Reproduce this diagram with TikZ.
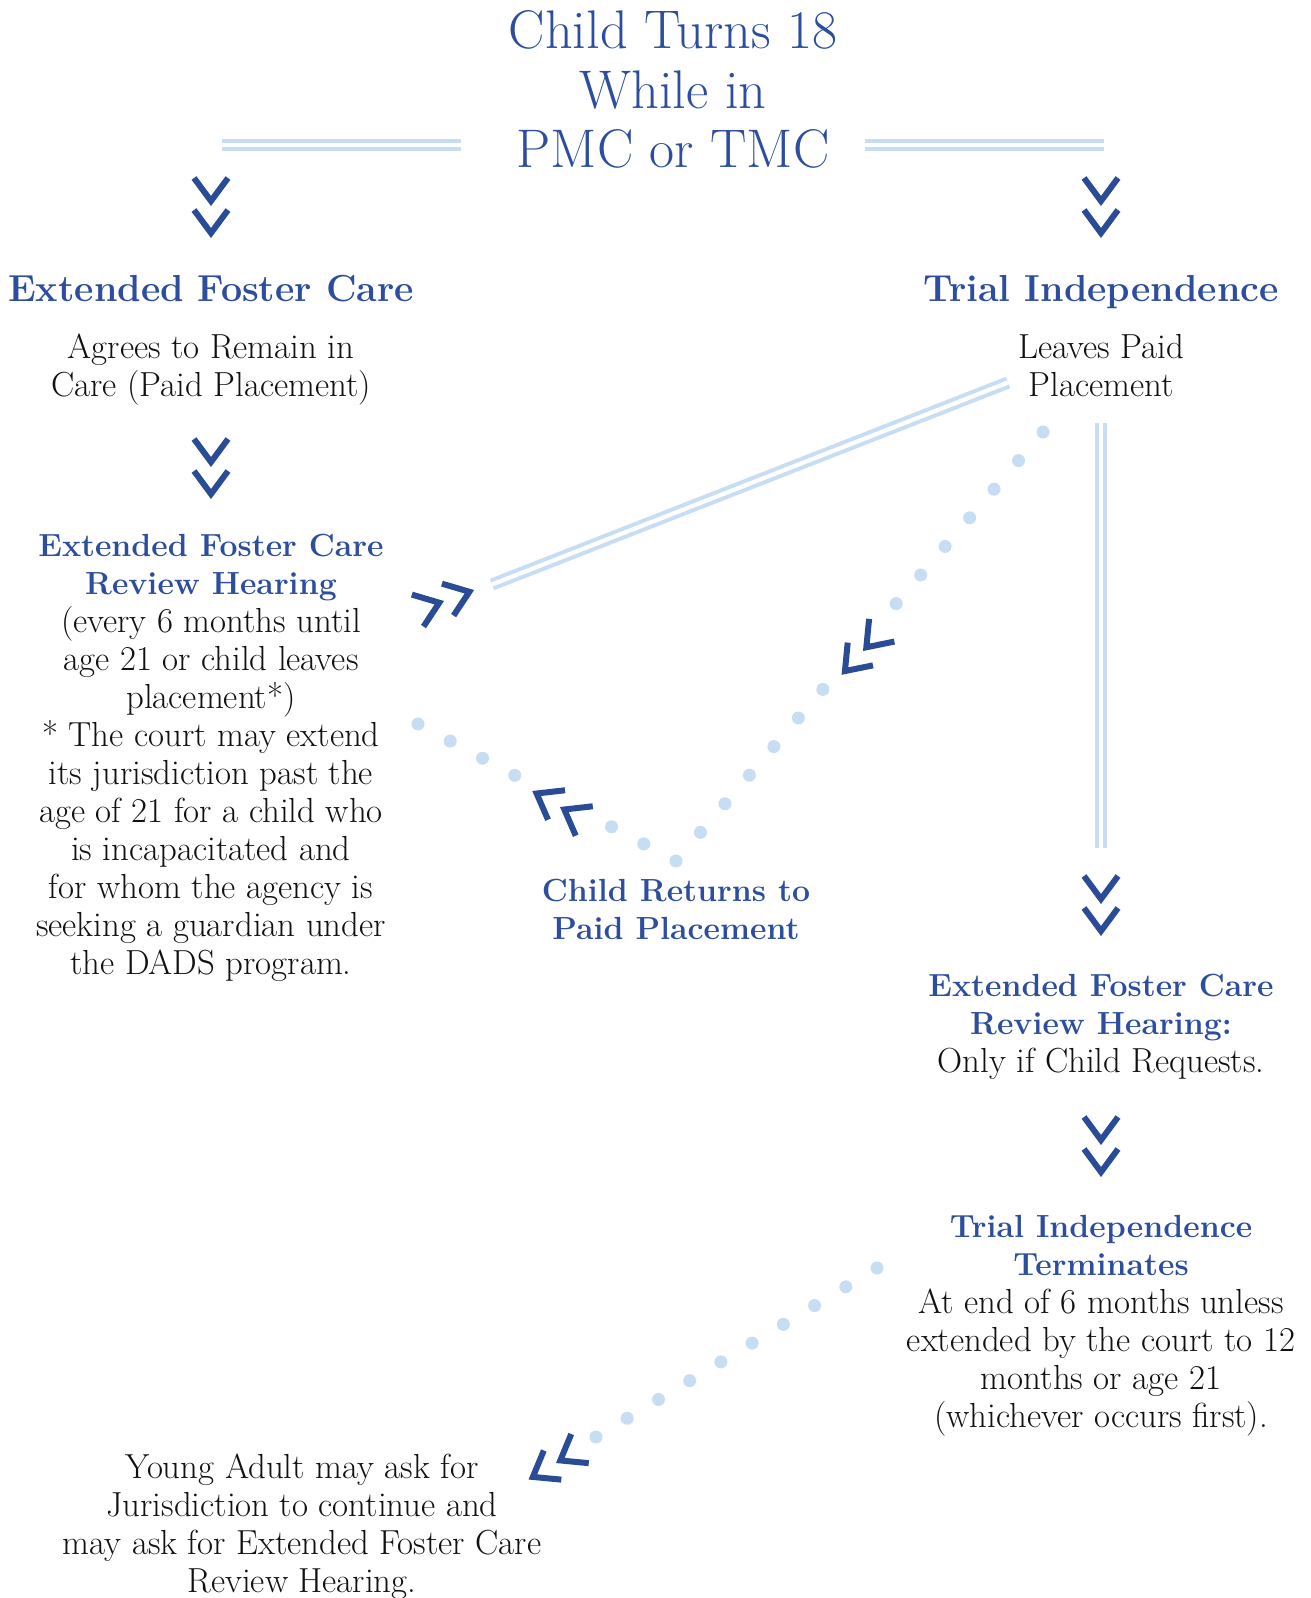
\documentclass[tikz,border=0pt]{standalone}
\usepackage{tikz}
\usetikzlibrary{calc}
\definecolor{navy}{HTML}{2D4E9E}
\definecolor{chev}{HTML}{2A4C97}
\definecolor{pale}{HTML}{C7DDF3}
\definecolor{ink}{HTML}{111111}
\newcommand{\subhead}[1]{{\fontsize{16}{19}\selectfont\bfseries\color{navy}#1}}

\begin{document}
\begin{tikzpicture}[x=0.5pt, y=-0.5pt]

        \tikzset{title/.style = {text=navy, align=center, inner sep=0pt, font=\fontsize{27.2}{29.75}\selectfont}}
        \tikzset{head/.style = {text=navy, align=center, inner sep=0pt, font=\fontsize{18.8}{21}\selectfont\bfseries}}
        \tikzset{body/.style = {text=ink, align=center, inner sep=0pt, font=\fontsize{17.4}{19}\selectfont}}
        \tikzset{bar/.style = {draw=pale, line width=2pt, double=white, double distance=2.1pt}}
        \tikzset{dot/.style = {fill=pale}}
        \tikzset{chevline/.style = {draw=chev, line width=3pt}}
        \tikzset{chevs/.pic = {
            \draw[chevline] (-17,-28) -- (0,-5) -- (17,-28);
            \draw[chevline] (-17,4) -- (0,27) -- (17,4);
        }}

        \fill[white] (0,0) rectangle (1310,1598);
        \useasboundingbox (0,0) rectangle (1310,1598);

        \node[title, anchor=base] (turns) at (673,168) {Child Turns 18\\While in\\PMC or TMC};

        \node[head, anchor=base] (efc) at (211,302) {Extended Foster Care};
        \node[head, anchor=base] (ti) at (1101,302) {Trial Independence};

        \node[body, anchor=base] (agrees) at (211,397) {Agrees to Remain in\\Care (Paid Placement)};
        \node[body, anchor=base] (leaves) at (1101,397) {Leaves Paid\\Placement};

        \node[body, anchor=base] (review) at (211,974) {\subhead{Extended Foster Care}\\\subhead{Review Hearing}\\(every 6 months until\\age 21 or child leaves\\placement*)\\* The court may extend\\its jurisdiction past the\\age of 21 for a child who\\is incapacitated and\\for whom the agency is\\seeking a guardian under\\the DADS program.};
        \node[body, anchor=base] (returns) at (676,939) {\subhead{Child Returns to}\\\subhead{Paid Placement}};
        \node[body, anchor=base] (request) at (1101,1072) {\subhead{Extended Foster Care}\\\subhead{Review Hearing:}\\Only if Child Requests.};
        \node[body, anchor=base] (ends) at (1101,1427) {\subhead{Trial Independence}\\\subhead{Terminates}\\At end of 6 months unless\\extended by the court to 12\\months or age 21\\(whichever occurs first).};
        \node[body, anchor=base] (young) at (302,1592) {Young Adult may ask for\\Jurisdiction to continue and\\may ask for Extended Foster Care\\Review Hearing.};

        % double bars
        \coordinate (bar-l1) at (222,145);
        \coordinate (bar-l2) at (461,145);
        \coordinate (bar-r1) at (865,145);
        \coordinate (bar-r2) at (1104,145);
        \coordinate (slant-a) at (1008,382.5);
        \coordinate (slant-b) at (492,584.5);
        \coordinate (drop-a) at (1101,423);
        \coordinate (drop-b) at (1101,848);
        \draw[bar] (bar-l1) -- (bar-l2);
        \draw[bar] (bar-r1) -- (bar-r2);
        \draw[bar] (slant-a) -- (slant-b);
        \draw[bar] (drop-a) -- (drop-b);

        % dotted paths
        \coordinate (lp-dot) at (1043,432);
        \coordinate (cr-dot) at (676,861);
        \coordinate (rh-dot) at (418,724);
        \coordinate (te-dot) at (877,1268);
        \coordinate (ya-dot) at (596,1437);
        \foreach \i in {0,...,6} \fill[dot] ($(lp-dot)!\i/15!(cr-dot)$) circle[radius=3.25pt];
        \foreach \i in {9,...,15} \fill[dot] ($(lp-dot)!\i/15!(cr-dot)$) circle[radius=3.25pt];
        \foreach \i in {1,2,5,6,7,8} \fill[dot] ($(cr-dot)!\i/8!(rh-dot)$) circle[radius=3.25pt];
        \foreach \i in {0,...,9} \fill[dot] ($(te-dot)!\i/9!(ya-dot)$) circle[radius=3.25pt];

        % chevrons
        \pic at (211,206) {chevs};
        \pic at (1101,206) {chevs};
        \pic at (211,467) {chevs};
        \pic at (1101,904) {chevs};
        \pic at (1101,1145) {chevs};
        \pic[rotate=110] at (444,601) {chevs};
        \pic[rotate=318] at (863,651) {chevs};
        \pic[rotate=240] at (560,807) {chevs};
        \pic[rotate=301] at (556,1463) {chevs};
\end{tikzpicture}
\end{document}
